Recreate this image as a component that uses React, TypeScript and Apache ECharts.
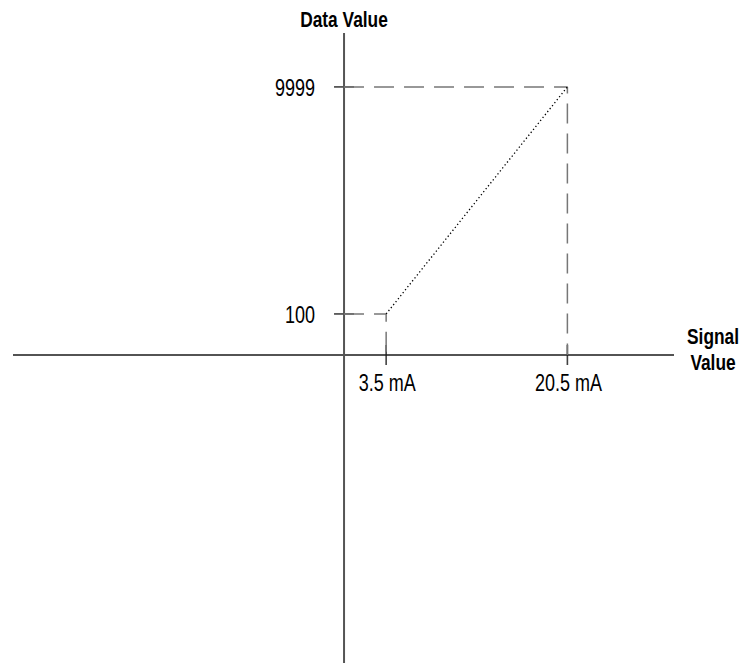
import React, { useEffect, useRef } from "react";
import * as echarts from "echarts";

// Signal (x) values and their tick labels
const signalValues = [3.5, 20.5];
const signalLabels = ["3.5 mA", "20.5 mA"];
// Data (y) values and their tick labels
const dataValues = [100, 9999];
const dataLabels = ["100", "9999"];
// Schematic origin where the two axes cross (diagram is not to scale)
const originSignal = -0.45;
const originData = -1690;
// Visible extents of the axes
const signalRange = [-31.5, 30.5];
const dataRange = [-15120, 12350];

const FONT = "'Liberation Sans', Arial, Helvetica, sans-serif";

export default function App() {
  const ref = useRef<HTMLDivElement>(null);

  useEffect(() => {
    if (!ref.current) return;
    const chart = echarts.init(ref.current, undefined, { renderer: "svg" });

    const lineBase = {
      type: "line" as const,
      symbol: "none",
      silent: true,
      clip: false,
      animation: false,
    };

    const titleText = (text: string, x: number, y: number) => ({
      type: "text",
      x,
      y,
      scaleX: 0.77,
      silent: true,
      style: {
        text,
        align: "center",
        verticalAlign: "middle",
        fontFamily: FONT,
        fontWeight: "bold",
        fontSize: 22.5,
        fill: "#000",
      },
    });

    const labelStyle = {
      fontFamily: FONT,
      fontSize: 24,
      fill: "#000",
    };

    const option = {
      animation: false,
      backgroundColor: "#ffffff",
      graphic: [
        titleText("Data Value", 344, 19),
        titleText("Signal", 713, 336),
        titleText("Value", 713, 362),
      ],
      grid: { left: 13, right: 78, top: 33, bottom: 2 },
      xAxis: { type: "value", min: signalRange[0], max: signalRange[1], show: false },
      yAxis: { type: "value", min: dataRange[0], max: dataRange[1], show: false },
      series: [
        {
          ...lineBase,
          name: "signal axis",
          data: [
            [signalRange[0], originData],
            [signalRange[1], originData],
          ],
          lineStyle: { color: "#1a1a1a", width: 1.5 },
        },
        {
          ...lineBase,
          name: "data axis",
          data: [
            [originSignal, dataRange[0]],
            [originSignal, dataRange[1]],
          ],
          lineStyle: { color: "#555", width: 2 },
        },
        {
          ...lineBase,
          name: "low guide",
          data: [
            [originSignal, dataValues[0]],
            [signalValues[0], dataValues[0]],
            [signalValues[0], originData],
          ],
          lineStyle: { color: "#777", width: 1.5, type: [20, 10] },
        },
        {
          ...lineBase,
          name: "high guide",
          data: [
            [originSignal, dataValues[1]],
            [signalValues[1], dataValues[1]],
            [signalValues[1], originData],
          ],
          lineStyle: { color: "#777", width: 1.5, type: [20, 10] },
        },
        {
          ...lineBase,
          name: "scaling",
          data: signalValues.map((s, i) => [s, dataValues[i]]),
          lineStyle: { color: "#000", width: 1.3, type: [1.3, 2.5] },
        },
        {
          type: "scatter",
          name: "data ticks",
          silent: true,
          clip: false,
          symbol: "rect",
          symbolSize: [20, 1.6],
          itemStyle: { color: "#111" },
          data: dataValues.map((v) => [originSignal, v]),
        },
        {
          type: "scatter",
          name: "signal ticks",
          silent: true,
          clip: false,
          symbol: "rect",
          symbolSize: [1.6, 20],
          itemStyle: { color: "#111" },
          data: signalValues.map((v) => [v, originData]),
        },
        {
          type: "custom",
          name: "data labels",
          silent: true,
          clip: false,
          encode: { x: 0, y: 1 },
          data: dataValues.map((v, i) => [originSignal, v, i]),
          renderItem: (_params: any, api: any) => {
            const pt = api.coord([api.value(0), api.value(1)]);
            return {
              type: "text",
              x: pt[0] - 29,
              y: pt[1] + 1,
              scaleX: 0.75,
              style: {
                ...labelStyle,
                text: dataLabels[api.value(2)],
                align: "right",
                verticalAlign: "middle",
              },
            };
          },
        },
        {
          type: "custom",
          name: "signal labels",
          silent: true,
          clip: false,
          encode: { x: 0, y: 1 },
          data: signalValues.map((v, i) => [v, originData, i]),
          renderItem: (_params: any, api: any) => {
            const pt = api.coord([api.value(0), api.value(1)]);
            return {
              type: "text",
              x: pt[0] + 1,
              y: pt[1] + 28,
              scaleX: 0.75,
              style: {
                ...labelStyle,
                text: signalLabels[api.value(2)],
                align: "center",
                verticalAlign: "middle",
              },
            };
          },
        },
      ],
    };

    chart.setOption(option as any);
    return () => chart.dispose();
  }, []);

  return (
    <div
      ref={ref}
      style={{ position: "absolute", left: 0, top: 0, width: 752, height: 665 }}
    />
  );
}
